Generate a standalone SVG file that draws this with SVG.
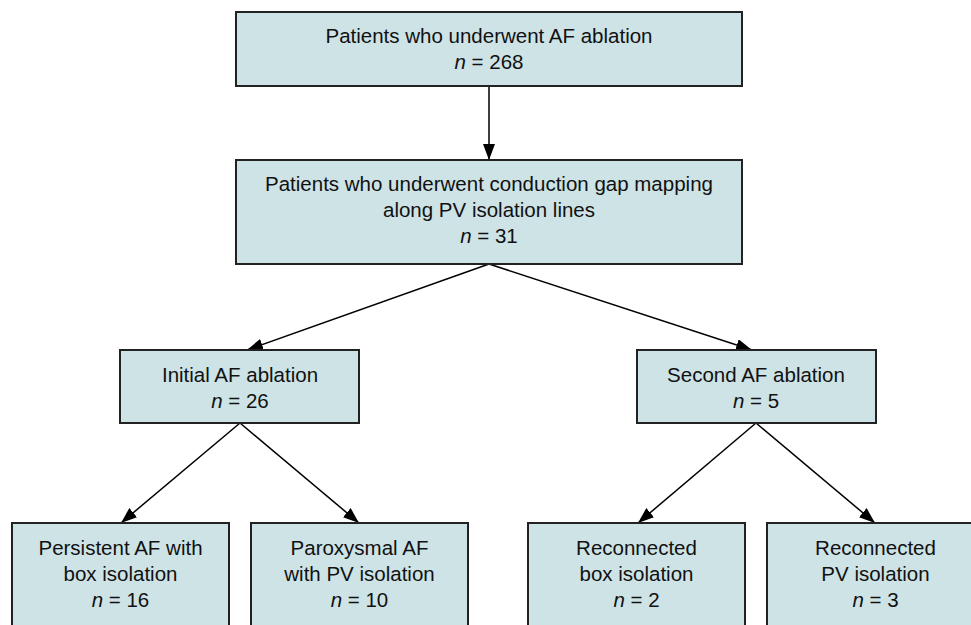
<svg xmlns="http://www.w3.org/2000/svg" width="971" height="625" viewBox="0 0 971 625">
<defs>
<marker id="ah" markerWidth="16" markerHeight="12" refX="16" refY="6" orient="auto" markerUnits="userSpaceOnUse">
<path d="M0,0 L16,6 L0,12 Z" fill="#000"/>
</marker>
<style>
.box{fill:#cde3e6;stroke:#222;stroke-width:2}
.t{font-family:"Liberation Sans",Arial,sans-serif;font-size:20.5px;fill:#111;text-anchor:middle}
.i{font-style:italic}
.c{stroke:#000;stroke-width:1.5;fill:none;marker-end:url(#ah)}
</style>
</defs>
<rect width="971" height="625" fill="#fff"/>
<g id="connectors">
<line class="c" x1="489" y1="86" x2="489" y2="160"/>
<line class="c" x1="489" y1="264" x2="247" y2="350"/>
<line class="c" x1="489" y1="264" x2="752" y2="350"/>
<line class="c" x1="240" y1="423" x2="121" y2="523"/>
<line class="c" x1="240" y1="423" x2="359" y2="523"/>
<line class="c" x1="756" y1="423" x2="638" y2="523"/>
<line class="c" x1="756" y1="423" x2="875" y2="523"/>
</g>
<g id="n1">
<rect class="box" x="236" y="12" width="506" height="74"/>
<text class="t" x="489" y="43">Patients who underwent AF ablation</text>
<text class="t" x="489" y="69"><tspan class="i">n</tspan> = 268</text>
</g>
<g id="n2">
<rect class="box" x="236" y="160" width="506" height="104"/>
<text class="t" x="489" y="191">Patients who underwent conduction gap mapping</text>
<text class="t" x="489" y="217">along PV isolation lines</text>
<text class="t" x="489" y="243"><tspan class="i">n</tspan> = 31</text>
</g>
<g id="n3">
<rect class="box" x="120" y="350" width="239" height="73"/>
<text class="t" x="240" y="382">Initial AF ablation</text>
<text class="t" x="240" y="408"><tspan class="i">n</tspan> = 26</text>
</g>
<g id="n4">
<rect class="box" x="637" y="350" width="239" height="73"/>
<text class="t" x="756" y="382">Second AF ablation</text>
<text class="t" x="756" y="408"><tspan class="i">n</tspan> = 5</text>
</g>
<g id="n5">
<rect class="box" x="12" y="523" width="217" height="120"/>
<text class="t" x="120.5" y="555">Persistent AF with</text>
<text class="t" x="120.5" y="581">box isolation</text>
<text class="t" x="120.5" y="607"><tspan class="i">n</tspan> = 16</text>
</g>
<g id="n6">
<rect class="box" x="251" y="523" width="217" height="120"/>
<text class="t" x="359.5" y="555">Paroxysmal AF</text>
<text class="t" x="359.5" y="581">with PV isolation</text>
<text class="t" x="359.5" y="607"><tspan class="i">n</tspan> = 10</text>
</g>
<g id="n7">
<rect class="box" x="528" y="523" width="217" height="120"/>
<text class="t" x="636.5" y="555">Reconnected</text>
<text class="t" x="636.5" y="581">box isolation</text>
<text class="t" x="636.5" y="607"><tspan class="i">n</tspan> = 2</text>
</g>
<g id="n8">
<rect class="box" x="767" y="523" width="217" height="120"/>
<text class="t" x="875.5" y="555">Reconnected</text>
<text class="t" x="875.5" y="581">PV isolation</text>
<text class="t" x="875.5" y="607"><tspan class="i">n</tspan> = 3</text>
</g>
</svg>
